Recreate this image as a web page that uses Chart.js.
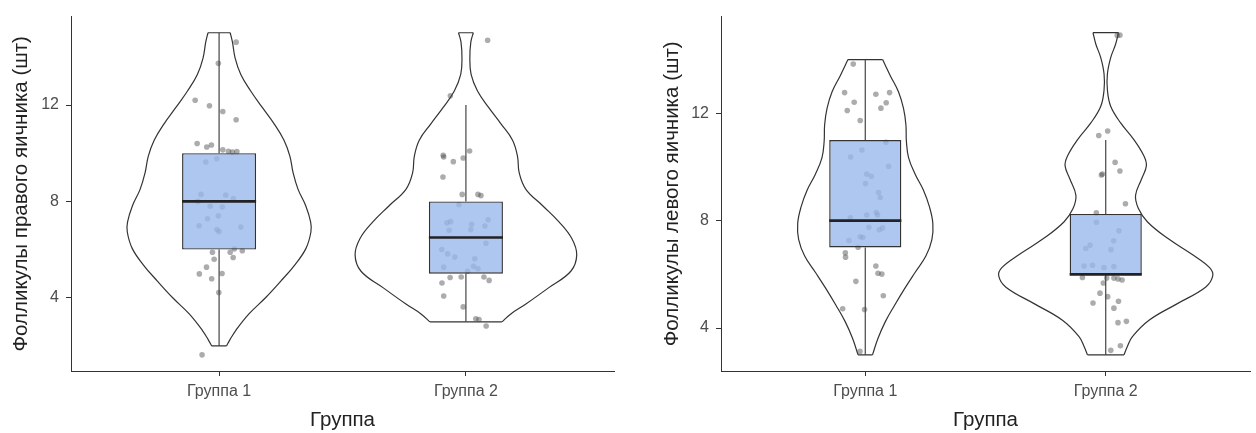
<!DOCTYPE html>
<html>
<head>
<meta charset="utf-8">
<script src="https://cdn.jsdelivr.net/npm/chart.js@4.4.1/dist/chart.umd.min.js"></script>
<style>
  html, body { margin: 0; padding: 0; background: #fff; }
  #wrap { position: relative; width: 1256px; height: 433px; overflow: hidden; }
  canvas { position: absolute; top: 0; }
  #rightOvaryChart { left: 0; }
  #leftOvaryChart { left: 628px; }
</style>
</head>
<body>
<div id="wrap">
  <canvas id="rightOvaryChart" width="628" height="433"></canvas>
  <canvas id="leftOvaryChart" width="628" height="433"></canvas>
</div>
<script>
// ---- categories and tick labels ----
const groups = ['Группа 1', 'Группа 2'];
const groupPos = [1, 2];
const yTicks = [4, 8, 12];

// ---- right ovary follicles (шт) ----
const rightRange = [0.96, 15.67];
const rightQ1 = [6, 5];
const rightMedian = [8, 6.5];
const rightQ3 = [10, 8];
const rightWhiskerLow = [2, 3];
const rightWhiskerHigh = [15, 12];

// violin outline: level and half-width (in group units)
const rightG1ViolinY = [2.0, 2.24, 2.65, 3.33, 4.01, 4.69, 5.38, 6.05, 6.73, 7.14, 7.82, 8.5, 9.18, 9.87, 10.54, 11.22, 11.9, 12.58, 13.27, 13.95, 14.62, 15.0];
const rightG1ViolinW = [0.030, 0.043, 0.068, 0.121, 0.189, 0.250, 0.308, 0.352, 0.372, 0.371, 0.351, 0.320, 0.300, 0.287, 0.263, 0.223, 0.175, 0.128, 0.088, 0.065, 0.054, 0.045];
const rightG2ViolinY = [3.0, 3.33, 3.74, 4.42, 5.1, 5.78, 6.46, 7.14, 7.82, 8.5, 9.18, 9.87, 10.54, 11.22, 11.9, 12.58, 13.27, 13.95, 14.62, 15.0];
const rightG2ViolinW = [0.146, 0.182, 0.243, 0.336, 0.425, 0.449, 0.429, 0.378, 0.311, 0.243, 0.216, 0.209, 0.189, 0.142, 0.092, 0.047, 0.021, 0.016, 0.020, 0.030];

// individual observations (value, horizontal jitter)
const rightG1PointsY  = [14.61, 13.73, 12.2, 11.97, 11.73, 11.39, 10.4, 10.26, 10.34, 10.14, 10.08, 10.05, 10.07, 9.63, 9.77, 8.29, 8.0, 8.26, 8.12, 7.8, 7.77, 7.4, 7.28, 6.99, 6.94, 6.83, 6.75, 5.89, 5.89, 6.03, 5.95, 5.6, 5.67, 5.27, 4.99, 4.79, 5.01, 4.22, 1.63];
const rightG1PointsDx = [0.069, -0.003, -0.097, -0.039, 0.015, 0.069, -0.089, -0.05, -0.031, 0.015, 0.038, 0.054, 0.072, -0.054, -0.009, -0.073, -0.086, 0.027, 0.058, -0.036, 0.013, -0.003, -0.047, -0.081, 0.088, -0.009, 0.0, -0.027, 0.045, 0.062, 0.094, -0.02, 0.057, -0.051, -0.08, -0.03, 0.012, -0.001, -0.069];
const rightG2PointsY  = [14.69, 12.38, 9.91, 9.84, 10.09, 9.8, 9.65, 9.01, 8.29, 8.29, 8.24, 7.86, 7.11, 7.16, 6.8, 7.05, 6.83, 7.24, 6.98, 6.26, 6.0, 5.82, 5.69, 5.62, 5.27, 5.31, 5.2, 5.1, 4.84, 4.86, 4.86, 4.72, 4.61, 4.07, 3.62, 3.13, 3.1, 2.83];
const rightG2PointsDx = [0.088, -0.063, -0.092, -0.09, 0.015, -0.011, -0.051, -0.093, -0.015, 0.049, 0.061, -0.028, -0.077, -0.062, -0.068, 0.023, 0.02, 0.09, 0.077, 0.081, -0.098, -0.074, -0.045, 0.036, -0.09, 0.031, 0.049, 0.007, -0.064, -0.019, 0.073, 0.094, -0.097, -0.09, -0.011, 0.04, 0.053, 0.082];

// ---- left ovary follicles (шт) ----
const leftRange = [2.4, 15.6];
const leftQ1 = [7, 6];
const leftMedian = [8, 6];
const leftQ3 = [11, 8.25];
const leftWhiskerLow = [3, 3];
const leftWhiskerHigh = [14, 11];

const leftG1ViolinY = [3.0, 3.62, 4.23, 4.85, 5.46, 6.07, 6.68, 7.29, 7.9, 8.51, 9.13, 9.74, 10.35, 10.96, 11.57, 12.18, 12.8, 13.4, 14.0];
const leftG1ViolinW = [0.030, 0.053, 0.083, 0.122, 0.163, 0.207, 0.252, 0.277, 0.281, 0.267, 0.242, 0.207, 0.180, 0.171, 0.169, 0.159, 0.138, 0.104, 0.072];
const leftG2ViolinY = [3.0, 3.31, 3.68, 4.29, 4.91, 5.52, 5.94, 6.25, 6.74, 7.35, 7.96, 8.45, 8.94, 9.55, 10.04, 10.41, 11.02, 11.64, 12.25, 12.86, 13.47, 14.08, 14.57, 15.0];
const leftG2ViolinW = [0.076, 0.090, 0.111, 0.180, 0.298, 0.415, 0.445, 0.432, 0.360, 0.256, 0.173, 0.136, 0.124, 0.149, 0.169, 0.159, 0.117, 0.062, 0.021, 0.007, 0.007, 0.021, 0.041, 0.053];

const leftG1PointsY  = [13.83, 12.77, 12.71, 12.77, 12.41, 12.39, 12.1, 12.19, 11.73, 10.92, 10.63, 10.37, 10.02, 9.74, 9.65, 9.38, 9.05, 8.86, 8.11, 8.21, 8.3, 8.21, 7.75, 7.66, 7.73, 7.4, 7.37, 7.26, 7.01, 6.8, 6.64, 6.31, 6.04, 6.01, 5.74, 5.2, 4.72, 4.69, 3.13];
const leftG1PointsDx = [-0.05, -0.086, 0.044, 0.101, -0.046, 0.087, -0.075, 0.065, -0.021, 0.086, -0.014, -0.061, 0.097, 0.006, 0.025, 0.001, 0.055, 0.062, -0.062, 0.006, 0.046, 0.051, 0.015, 0.058, 0.072, -0.021, -0.01, -0.068, -0.03, -0.083, -0.082, 0.044, 0.053, 0.069, -0.039, 0.075, -0.094, -0.003, -0.022];
const leftG2PointsY  = [14.9, 14.91, 11.17, 11.34, 10.17, 9.85, 9.7, 9.74, 8.63, 8.29, 7.94, 7.62, 7.25, 7.09, 6.96, 6.92, 6.31, 6.34, 6.25, 6.29, 5.88, 5.86, 5.86, 5.83, 5.79, 5.68, 5.3, 5.17, 4.93, 5.0, 4.74, 4.2, 4.25, 3.34, 3.17];
const leftG2PointsDx = [0.048, 0.059, -0.029, 0.008, 0.039, 0.059, -0.018, -0.014, 0.082, -0.039, -0.039, 0.055, 0.033, -0.065, -0.083, 0.022, -0.09, -0.055, -0.007, 0.034, -0.097, 0.004, 0.034, 0.051, 0.068, -0.01, -0.024, 0.008, -0.053, 0.053, 0.034, 0.051, 0.086, 0.061, 0.021];

// ---- styling ----
const FONT = "'Liberation Sans', Arial, sans-serif";
const OUTLINE = '#333333';
const BOX_HALF = 0.15;
const TITLE_SIZE = 20.5;
const TICK_SIZE = 16;

function buildDatasets(d) {
  const ds = [];
  const line = (data, extra) => Object.assign({
    type: 'scatter', data, showLine: true, pointRadius: 0,
    borderColor: OUTLINE, borderWidth: 1.2, fill: false, order: 5
  }, extra || {});

  groupPos.forEach((pos, g) => {
    const ys = d.violinY[g], ws = d.violinW[g];
    const n = ys.length - 1;
    // violin sides
    ds.push(line(ys.map((y, i) => ({ x: pos + ws[i], y })), { tension: 0.4 }));
    ds.push(line(ys.map((y, i) => ({ x: pos - ws[i], y })), { tension: 0.4 }));
    // violin flat ends
    ds.push(line([{ x: pos - ws[0], y: ys[0] }, { x: pos + ws[0], y: ys[0] }]));
    ds.push(line([{ x: pos - ws[n], y: ys[n] }, { x: pos + ws[n], y: ys[n] }]));
    // whiskers
    ds.push(line([{ x: pos, y: d.lo[g] }, { x: pos, y: d.q1[g] }], { borderColor: '#444', order: 4 }));
    ds.push(line([{ x: pos, y: d.q3[g] }, { x: pos, y: d.hi[g] }], { borderColor: '#444', order: 4 }));
    // jittered observations
    ds.push({
      type: 'scatter',
      data: d.pointsY[g].map((y, i) => ({ x: pos + d.pointsDx[g][i], y })),
      pointRadius: 2.8, pointBackgroundColor: 'rgba(70,70,70,0.45)',
      pointBorderWidth: 0, order: 3
    });
    // median
    ds.push(line([{ x: pos - BOX_HALF, y: d.med[g] }, { x: pos + BOX_HALF, y: d.med[g] }],
      { borderColor: '#222', borderWidth: 2.6, order: 1 }));
  });

  // interquartile boxes
  ds.push({
    type: 'bar',
    data: groupPos.map((pos, g) => ({ x: pos, y: [d.q1[g], d.q3[g]] })),
    backgroundColor: 'rgba(154,185,236,0.8)',
    borderColor: OUTLINE, borderWidth: 1.4, borderSkipped: false,
    barPercentage: BOX_HALF * 2, categoryPercentage: 1, order: 2
  });
  return ds;
}

function makePanel(canvasId, d, yTitle, box) {
  const axisGrid = { drawOnChartArea: false, drawTicks: true, tickLength: 5, color: OUTLINE, lineWidth: 1, offset: false };
  const axisBorder = { display: true, color: OUTLINE, width: 1 };
  return new Chart(document.getElementById(canvasId), {
    type: 'scatter',
    data: { datasets: buildDatasets(d) },
    options: {
      responsive: false,
      devicePixelRatio: 1,
      animation: false,
      events: [],
      layout: { padding: { left: 0, top: 12, right: box.right, bottom: 0 } },
      plugins: { legend: { display: false }, tooltip: { enabled: false } },
      scales: {
        x: {
          type: 'linear', min: 0.4, max: 2.6, offset: false,
          afterBuildTicks: ax => { ax.ticks = groupPos.map(v => ({ value: v })); },
          afterFit: ax => { ax.height = 62; },
          ticks: {
            callback: v => groups[groupPos.indexOf(v)],
            color: '#4d4d4d', font: { family: FONT, size: TICK_SIZE }, padding: 6,
            maxRotation: 0, autoSkip: false
          },
          grid: axisGrid, border: axisBorder,
          title: { display: true, text: 'Группа', color: '#222', font: { family: FONT, size: TITLE_SIZE }, padding: { top: 0, bottom: 0 } }
        },
        y: {
          type: 'linear', min: d.range[0], max: d.range[1],
          afterBuildTicks: ax => { ax.ticks = yTicks.map(v => ({ value: v })); },
          afterFit: ax => { ax.width = box.yWidth; },
          ticks: { color: '#4d4d4d', font: { family: FONT, size: TICK_SIZE }, padding: 7 },
          grid: axisGrid, border: axisBorder,
          title: { display: true, text: yTitle, color: '#222', font: { family: FONT, size: TITLE_SIZE }, padding: { top: box.titlePad, bottom: 0 } }
        }
      }
    }
  });
}

makePanel('rightOvaryChart', {
  range: rightRange, q1: rightQ1, med: rightMedian, q3: rightQ3,
  lo: rightWhiskerLow, hi: rightWhiskerHigh,
  violinY: [rightG1ViolinY, rightG2ViolinY], violinW: [rightG1ViolinW, rightG2ViolinW],
  pointsY: [rightG1PointsY, rightG2PointsY], pointsDx: [rightG1PointsDx, rightG2PointsDx]
}, 'Фолликулы правого яичника (шт)', { yWidth: 71, right: 14, titlePad: 8.7 });

makePanel('leftOvaryChart', {
  range: leftRange, q1: leftQ1, med: leftMedian, q3: leftQ3,
  lo: leftWhiskerLow, hi: leftWhiskerHigh,
  violinY: [leftG1ViolinY, leftG2ViolinY], violinW: [leftG1ViolinW, leftG2ViolinW],
  pointsY: [leftG1PointsY, leftG2PointsY], pointsDx: [leftG1PointsDx, leftG2PointsDx]
}, 'Фолликулы левого яичника (шт)', { yWidth: 93, right: 6, titlePad: 31.7 });
</script>
</body>
</html>
